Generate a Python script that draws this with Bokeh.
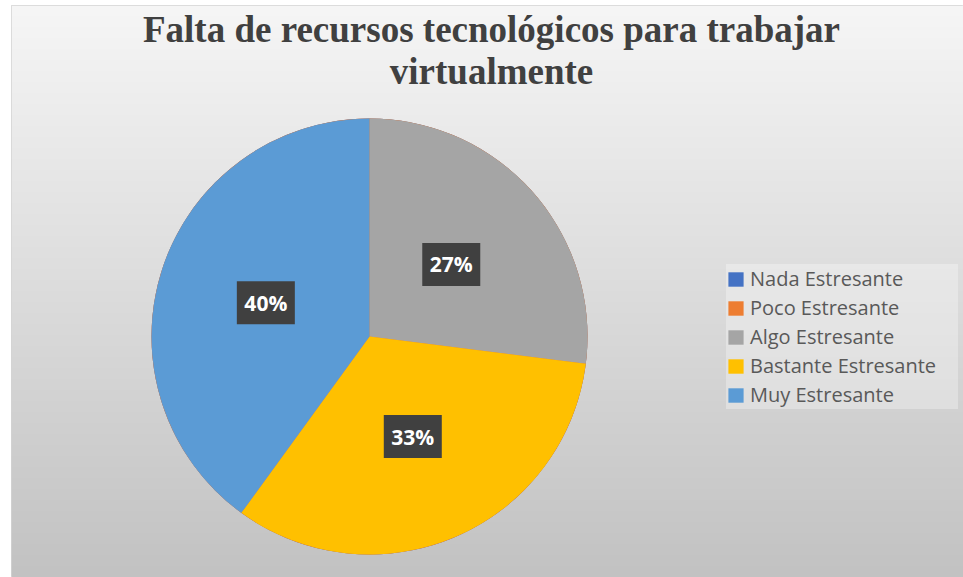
import numpy as np
from bokeh.plotting import figure
from bokeh.models import Range1d, Legend, LegendItem, ColumnDataSource
from bokeh.embed import file_html
from bokeh.resources import INLINE
from bokeh.core.properties import value

# ---- data ----
categories = ["Nada Estresante", "Poco Estresante", "Algo Estresante",
              "Bastante Estresante", "Muy Estresante"]
percentages = [0, 0, 27, 33, 40]
colors = ["#4472C4", "#ED7D31", "#A5A5A5", "#FFC000", "#5B9BD5"]
title_lines = ["Falta de recursos tecnológicos para trabajar", "virtualmente"]

# ---- layout helpers (data space == frame pixels) ----
PAGE_X0, PAGE_Y0, PAGE_Y1, PAGE_X1 = 11, 5, 577, 963
FRAME_W, FRAME_H = PAGE_X1 - PAGE_X0, PAGE_Y1 - PAGE_Y0
def px(x):
    return x - PAGE_X0
def py(y):
    return PAGE_Y1 - y

cx, cy, R = px(369), py(336), 218

p = figure(width=963, height=577, output_backend="svg", toolbar_location=None,
           x_range=Range1d(0, FRAME_W), y_range=Range1d(0, FRAME_H),
           x_axis_location=None, y_axis_location=None,
           min_border_left=PAGE_X0, min_border_right=0, min_border_top=PAGE_Y0, min_border_bottom=0)
p.grid.visible = False
p.border_fill_color = "white"
p.outline_line_color = "#d4d4d4"
p.background_fill_color = "#dcdcdc"

# background gradient (top light -> bottom darker)
t = np.linspace(0.0, 1.0, FRAME_H)[:, None]  # row 0 at bottom
top_c, bot_c = 246, 194
shade = (bot_c + (top_c - bot_c) * t).astype(np.uint8)
img = np.zeros((FRAME_H, 1), dtype=np.uint32)
view = img.view(dtype=np.uint8).reshape((FRAME_H, 1, 4))
view[..., 0] = shade
view[..., 1] = shade
view[..., 2] = shade
view[..., 3] = 255
p.image_rgba(image=[img], x=0, y=0, dw=FRAME_W, dh=FRAME_H)

# wedges
frac = np.array(percentages, dtype=float) / sum(percentages)
cum = np.concatenate([[0.0], np.cumsum(frac)])
start = np.pi / 2 - 2 * np.pi * cum[:-1]
end = np.pi / 2 - 2 * np.pi * cum[1:]
src = ColumnDataSource(dict(cat=categories, val=percentages, start=start, end=end, color=colors))
wr = p.wedge(x=cx, y=cy, radius=R, start_angle="start", end_angle="end", direction="clock",
             fill_color="color", line_color=None, source=src)

# data labels
mid = (start + end) / 2
lab_r = 0.5 * R
idx = [i for i, v in enumerate(percentages) if v > 0]
lsrc = ColumnDataSource(dict(
    x=[cx + lab_r * np.cos(mid[i]) for i in idx],
    y=[cy + lab_r * np.sin(mid[i]) for i in idx],
    txt=[f"{percentages[i]}%" for i in idx],
))
p.rect(x="x", y="y", width=58, height=43, fill_color="#404040", line_color=None, source=lsrc)
p.text(x="x", y="y", text="txt", text_align="center", text_baseline="middle",
       text_color="white", text_font=value("Open Sans"), text_font_style="bold",
       text_font_size="21px", source=lsrc)

# title
p.text(x=[px(491)], y=[py(29)], text=[title_lines[0]], text_align="center", text_baseline="middle",
       text_color="#404040", text_font=value("Liberation Serif"), text_font_style="bold",
       text_font_size="37px")
p.text(x=[px(491)], y=[py(71)], text=[title_lines[1]], text_align="center", text_baseline="middle",
       text_color="#404040", text_font=value("Liberation Serif"), text_font_style="bold",
       text_font_size="37px")

# legend
legend = Legend(items=[LegendItem(label=c, renderers=[wr], index=i) for i, c in enumerate(categories)],
                location=(715, 168), orientation="vertical",
                glyph_width=19, glyph_height=18, label_standoff=5,
                label_height=29, label_width=208, spacing=0, padding=2, margin=0,
                label_text_font="Open Sans", label_text_font_size="20px",
                label_text_color="#595959",
                background_fill_color="white", background_fill_alpha=0.3,
                border_line_color=None)
p.add_layout(legend)

open("out.html", "w").write(file_html(p, INLINE))
